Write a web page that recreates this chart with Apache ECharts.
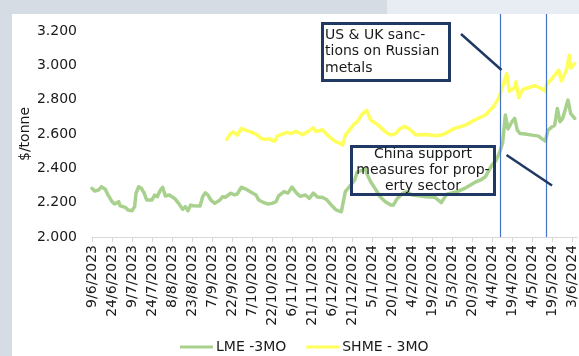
<!DOCTYPE html>
<html>
<head>
<meta charset="utf-8">
<script src="https://cdn.jsdelivr.net/npm/echarts@6/dist/echarts.min.js"></script>
<style>
  html, body { margin: 0; padding: 0; background: #ffffff; }
  #chart { width: 579px; height: 356px; }
</style>
</head>
<body>
<div id="chart"></div>
<script>
// Aluminium prices, USD per tonne. X values are days counted from 9 June 2023.
const tickLabels = ['9/6/2023', '24/6/2023', '9/7/2023', '24/7/2023', '8/8/2023', '23/8/2023',
  '7/9/2023', '22/9/2023', '7/10/2023', '22/10/2023', '6/11/2023', '21/11/2023', '6/12/2023',
  '21/12/2023', '5/1/2024', '20/1/2024', '4/2/2024', '19/2/2024', '5/3/2024', '20/3/2024',
  '4/4/2024', '19/4/2024', '4/5/2024', '19/5/2024', '3/6/2024'];
const tickStep = 15;

const seriesNames = ['LME -3MO', 'SHME - 3MO'];

const lme3mo = [
  [0, 2284], [2, 2268], [5, 2274], [7, 2293], [10, 2278], [12, 2245], [13, 2239], [15, 2206],
  [17, 2192], [20, 2206], [21, 2182], [25, 2173], [27, 2157], [30, 2153], [32, 2177], [33, 2255],
  [35, 2293], [37, 2284], [39, 2258], [41, 2216], [45, 2216], [47, 2245], [49, 2235], [51, 2270],
  [53, 2290], [55, 2239], [58, 2245], [62, 2225], [65, 2196], [68, 2161], [70, 2177], [72, 2153],
  [74, 2186], [76, 2182], [81, 2180], [83, 2235], [85, 2258], [87, 2245], [89, 2216], [92, 2196],
  [96, 2216], [98, 2235], [100, 2231], [104, 2255], [107, 2245], [109, 2251], [112, 2290],
  [115, 2281], [119, 2262], [123, 2245], [125, 2216], [129, 2200], [132, 2192], [135, 2196],
  [138, 2206], [140, 2240], [144, 2265], [147, 2256], [150, 2291], [153, 2260], [156, 2237],
  [160, 2245], [163, 2225], [166, 2256], [169, 2233], [173, 2230], [176, 2218], [180, 2182],
  [183, 2158], [184, 2161], [187, 2147], [188, 2186], [190, 2264], [193, 2293], [197, 2332],
  [199, 2380], [203, 2390], [205, 2400], [206, 2371], [209, 2322], [213, 2274], [216, 2235],
  [220, 2206], [224, 2186], [226, 2186], [229, 2225], [233, 2255], [236, 2265], [240, 2245],
  [245, 2240], [250, 2235], [257, 2232], [262, 2200], [266, 2250], [273, 2262], [280, 2285],
  [288, 2322], [292, 2335], [295, 2351], [300, 2420], [303, 2445], [306, 2500], [308, 2550],
  [310, 2711], [312, 2630], [315, 2672], [317, 2691], [319, 2623], [321, 2604], [325, 2600],
  [330, 2594], [335, 2588], [337, 2575], [340, 2560], [342, 2623], [345, 2642], [347, 2652],
  [349, 2749], [351, 2672], [353, 2691], [357, 2798], [359, 2720], [362, 2691]
];

const shme3mo = [
  [101, 2569], [104, 2604], [106, 2613], [109, 2594], [112, 2633], [115, 2623], [119, 2613],
  [123, 2600], [127, 2575], [130, 2569], [133, 2572], [137, 2558], [139, 2590], [143, 2600],
  [146, 2610], [149, 2603], [153, 2616], [158, 2596], [161, 2610], [166, 2636], [168, 2615],
  [173, 2625], [176, 2598], [179, 2578], [183, 2555], [185, 2549], [188, 2536], [190, 2594],
  [193, 2623], [197, 2662], [199, 2672], [202, 2711], [204, 2725], [206, 2738], [209, 2682],
  [213, 2662], [216, 2642], [220, 2613], [224, 2594], [228, 2604], [230, 2625], [234, 2645],
  [238, 2630], [243, 2594], [250, 2598], [258, 2590], [262, 2594], [265, 2604], [272, 2633],
  [280, 2652], [287, 2682], [295, 2711], [301, 2759], [305, 2810], [307, 2856], [311, 2953],
  [313, 2850], [317, 2870], [318, 2905], [320, 2812], [323, 2860], [327, 2870], [332, 2882],
  [336, 2870], [340, 2850], [341, 2890], [345, 2924], [348, 2953], [350, 2973], [352, 2910],
  [356, 2978], [358, 3060], [359, 2985], [362, 3011]
];

// Event markers (days from 9 June 2023)
const eventDays = [306.2, 340.5];
const eventNotes = [
  'US & UK sanc-\ntions on Russian\nmetals',
  'China support\nmeasures for prop-\nerty sector'
];

const FONT = 'DejaVu Sans';
const TEXT = '#1a1a1a';
const NAVY = '#1f3864';

const chart = echarts.init(document.getElementById('chart'), null, { renderer: 'canvas' });

const tickValues = tickLabels.map((_, i) => i * tickStep);

chart.setOption({
  animation: false,
  backgroundColor: '#ffffff',
  textStyle: { fontFamily: FONT, color: TEXT },
  grid: { left: 92, right: 0, top: 14, bottom: 119, containLabel: false },
  xAxis: {
    type: 'value',
    min: 0,
    max: 364,
    interval: tickStep,
    axisLine: { show: true, lineStyle: { color: '#d9d9d9', width: 1 } },
    axisTick: { show: true, length: 5, lineStyle: { color: '#d9d9d9' }, customValues: tickValues },
    splitLine: { show: false },
    axisLabel: {
      customValues: tickValues,
      rotate: 90,
      margin: 8,
      fontSize: 14,
      fontFamily: FONT,
      color: TEXT,
      formatter: v => (v % tickStep === 0 && tickLabels[v / tickStep]) || ''
    }
  },
  yAxis: {
    type: 'value',
    min: 2000,
    max: 3300,
    interval: 200,
    axisLine: { show: false },
    axisTick: { show: false },
    splitLine: { show: false },
    axisLabel: {
      margin: 15,
      fontSize: 14,
      fontFamily: FONT,
      color: TEXT,
      formatter: v => (v % 200 === 0 && v <= 3200) ? (v / 1000).toFixed(3) : ''
    }
  },
  legend: {
    left: 175,
    top: 335,
    icon: 'rect',
    itemWidth: 33,
    itemHeight: 3,
    itemGap: 20,
    textStyle: { fontSize: 14, fontFamily: FONT, color: TEXT, padding: [0, 0, 0, -2] },
    data: seriesNames
  },
  series: [
    {
      name: seriesNames[0],
      type: 'line',
      data: lme3mo,
      showSymbol: false,
      color: '#a9d18e',
      lineStyle: { width: 3.5, color: '#a9d18e', join: 'round', cap: 'round' },
      markLine: {
        silent: true,
        symbol: ['none', 'none'],
        label: { show: false },
        lineStyle: { color: '#4472c4', width: 1.2, type: 'solid' },
        data: eventDays.map(d => ({ xAxis: d }))
      }
    },
    {
      name: seriesNames[1],
      type: 'line',
      data: shme3mo,
      showSymbol: false,
      color: '#ffff5c',
      lineStyle: { width: 3.5, color: '#ffff5c', join: 'round', cap: 'round' }
    }
  ],
  graphic: [
    // page frame
    { type: 'rect', shape: { x: 0, y: 0, width: 12, height: 356 }, style: { fill: '#d5dce3' }, z: 0 },
    { type: 'rect', shape: { x: 0, y: 0, width: 387, height: 14 }, style: { fill: '#d5dce3' }, z: 0 },
    { type: 'rect', shape: { x: 387, y: 0, width: 192, height: 14 }, style: { fill: '#e8edf4' }, z: 0 },
    // y axis title
    {
      type: 'text', x: 25, y: 134, rotation: Math.PI / 2,
      style: { text: '$/tonne', font: '14px "' + FONT + '"', fill: TEXT, align: 'center', verticalAlign: 'middle' }
    },
    // callout 1
    { type: 'rect', shape: { x: 322.5, y: 23.5, width: 127, height: 57 }, style: { fill: 'none', stroke: NAVY, lineWidth: 3 }, z: 10 },
    {
      type: 'text', x: 325, y: 27, z: 11,
      style: { text: eventNotes[0], font: '14px "' + FONT + '"', fill: TEXT, lineHeight: 16.5, align: 'left', verticalAlign: 'top' }
    },
    { type: 'line', shape: { x1: 461, y1: 34, x2: 501.5, y2: 70 }, style: { stroke: NAVY, lineWidth: 2.5 }, z: 10 },
    // callout 2
    { type: 'rect', shape: { x: 351.5, y: 146.5, width: 143, height: 48 }, style: { fill: 'none', stroke: NAVY, lineWidth: 3 }, z: 10 },
    {
      type: 'text', x: 423, y: 146, z: 11,
      style: { text: eventNotes[1], font: '14px "' + FONT + '"', fill: TEXT, lineHeight: 16, align: 'center', verticalAlign: 'top' }
    },
    { type: 'line', shape: { x1: 506.5, y1: 155, x2: 552, y2: 185.5 }, style: { stroke: NAVY, lineWidth: 2.5 }, z: 10 }
  ]
});
</script>
</body>
</html>
